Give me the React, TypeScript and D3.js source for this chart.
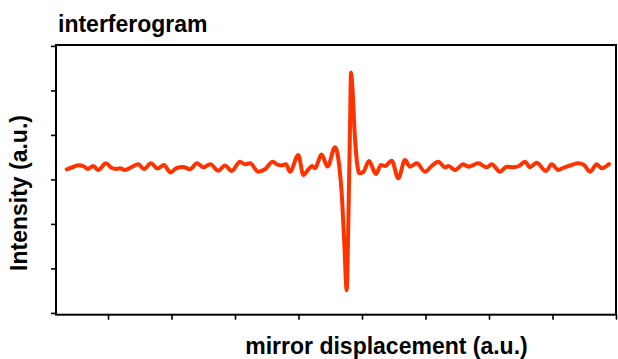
import * as d3 from "d3";
import React, { useRef, useEffect } from 'react'

// interferogram trace (x in a.u., intensity in a.u.)
const displacement = [
  0.350, 0.449, 0.532, 0.622, 0.677, 0.769, 0.843, 0.969, 1.047, 1.126,
  1.189, 1.268, 1.373, 1.477, 1.567, 1.677, 1.780, 1.882, 1.984, 2.082,
  2.186, 2.291, 2.402, 2.501, 2.611, 2.737, 2.843, 2.948, 3.079, 3.157,
  3.236, 3.367, 3.472, 3.594, 3.666, 3.724, 3.803, 3.866, 3.997, 4.076,
  4.154, 4.213, 4.260, 4.362, 4.457, 4.575, 4.643, 4.680, 4.721, 4.759,
  4.784, 4.811, 4.827, 4.854, 4.879, 4.917, 4.961, 5.020, 5.110, 5.220,
  5.299, 5.362, 5.468, 5.572, 5.677, 5.756, 5.861, 5.992, 6.098, 6.202,
  6.307, 6.359, 6.465, 6.595, 6.674, 6.831, 6.964, 7.043, 7.173, 7.279,
  7.383, 7.472, 7.567, 7.646, 7.751, 7.898, 7.987, 8.091, 8.165, 8.302,
  8.406, 8.496, 8.591, 8.696, 8.775, 8.890,
]
const intensity = [
  0.227, 0.279, 0.317, 0.290, 0.234, 0.301, 0.211, 0.362, 0.268, 0.234,
  0.250, 0.211, 0.279, 0.340, 0.234, 0.362, 0.245, 0.324, 0.155, 0.256,
  0.279, 0.227, 0.362, 0.272, 0.340, 0.196, 0.313, 0.189, 0.398, 0.340,
  0.362, 0.173, 0.227, 0.398, 0.335, 0.313, 0.340, 0.173, 0.549, 0.099,
  0.223, 0.301, 0.250, 0.560, 0.290, 0.722, 0.286, -0.306, -1.431, -2.488,
  -1.064, 1.186, 2.400, 1.944, 1.186, 0.436, 0.137, 0.166, 0.414, 0.121,
  0.324, 0.301, 0.421, 0.025, 0.436, 0.286, 0.362, 0.173, 0.301, 0.398,
  0.272, 0.301, 0.211, 0.340, 0.286, 0.362, 0.272, 0.340, 0.173, 0.286,
  0.272, 0.301, 0.398, 0.272, 0.376, 0.189, 0.340, 0.211, 0.256, 0.324,
  0.362, 0.324, 0.173, 0.340, 0.250, 0.346,
]
const xTicks = [1, 2, 3, 4, 5, 6, 7, 8, 9]
const yTicks = [-3, -2, -1, 0, 1, 2, 3]

const W = 618, H = 359
const m = { l: 56, r: 2, t: 45, b: 44.3 }
const font = "'Liberation Sans', Arial, sans-serif"

const App: React.FC = () => {
  const gx = useRef(null)
  const gy = useRef(null)

  const x = d3.scaleLinear([0.181, 9], [m.l, W - m.r])
  const y = d3.scaleLinear([-3.04, 3.02], [H - m.b, m.t])

  const pts: [number, number][] = displacement.map((d, i) => [d, intensity[i]])
  const line = d3.line<[number, number]>()
    .x(d => x(d[0]))
    .y(d => y(d[1]))
    .curve(d3.curveMonotoneX)

  useEffect(() => {
    if (!gx.current) return
    const g = d3.select(gx.current as SVGGElement)
    g.call(d3.axisBottom(x).tickValues(xTicks).tickSize(5).tickFormat(() => ""))
    g.select(".domain").remove()
    g.selectAll("line").attr("stroke", "#000").attr("stroke-width", 1.6)
  }, [gx, x])
  useEffect(() => {
    if (!gy.current) return
    const g = d3.select(gy.current as SVGGElement)
    g.call(d3.axisLeft(y).tickValues(yTicks).tickSize(5).tickFormat(() => ""))
    g.select(".domain").remove()
    g.selectAll("line").attr("stroke", "#000").attr("stroke-width", 1.6)
  }, [gy, y])

  return (
    <svg width={W} height={H} style={{ position: "absolute", left: 0, top: 0, background: "#fff" }}>
      <text x={58} y={32} fontFamily={font} fontWeight="bold" fontSize={23}>interferogram</text>
      <path d={line(pts) ?? ""} fill="none" stroke="#ff3300" strokeWidth={4}
            strokeLinejoin="round" strokeLinecap="round" />
      <rect x={m.l} y={m.t} width={W - m.r - m.l} height={H - m.b - m.t}
            fill="none" stroke="#000" strokeWidth={2} />
      <g ref={gx} transform={`translate(0, ${H - m.b})`} />
      <g ref={gy} transform={`translate(${m.l}, 0)`} />
      <text transform={`translate(27, 193) rotate(-90)`} textAnchor="middle"
            fontFamily={font} fontWeight="bold" fontSize={23}>Intensity (a.u.)</text>
      <text x={386.5} y={354} textAnchor="middle"
            fontFamily={font} fontWeight="bold" fontSize={23}>mirror displacement (a.u.)</text>
    </svg>
  )
}

export default App
